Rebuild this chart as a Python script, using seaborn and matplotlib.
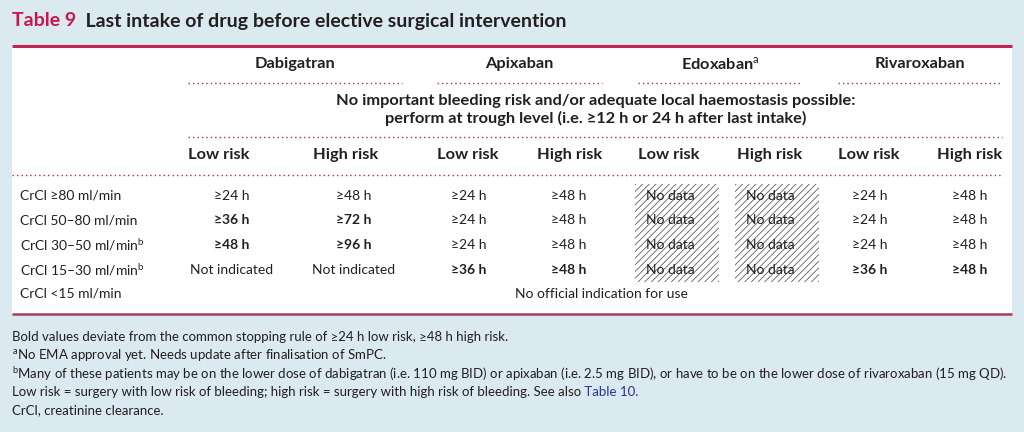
import numpy as np
import pandas as pd
import matplotlib
matplotlib.use("Agg")
import matplotlib.pyplot as plt
import seaborn as sns
from matplotlib.patches import Rectangle

sns.set_theme(style="white")
plt.rcParams['font.family'] = ['Lato', 'DejaVu Sans']
plt.rcParams['mathtext.fontset'] = 'custom'
plt.rcParams['mathtext.rm'] = 'Lato'
plt.rcParams['mathtext.bf'] = 'Lato:bold'
plt.rcParams['hatch.linewidth'] = 0.6

# --- datos de la tabla ---
titulo_num = "Table 9"
titulo = "Last intake of drug before elective surgical intervention"
farmacos = ["Dabigatran", "Apixaban", "Edoxaban$^{\\mathrm{a}}$", "Rivaroxaban"]
riesgos = ["Low risk", "High risk"]
cabecera_1 = "No important bleeding risk and/or adequate local haemostasis possible:"
cabecera_2 = "perform at trough level (i.e. ≥12 h or 24 h after last intake)"
filas = ["CrCl ≥80 ml/min", "CrCl 50–80 ml/min", "CrCl 30–50 ml/min$^{\\mathrm{b}}$",
         "CrCl 15–30 ml/min$^{\\mathrm{b}}$", "CrCl <15 ml/min"]

dabigatran_low = ["≥24 h", "≥36 h", "≥48 h", "Not indicated"]
dabigatran_high = ["≥48 h", "≥72 h", "≥96 h", "Not indicated"]
apixaban_low = ["≥24 h", "≥24 h", "≥24 h", "≥36 h"]
apixaban_high = ["≥48 h", "≥48 h", "≥48 h", "≥48 h"]
edoxaban_low = ["No data", "No data", "No data", "No data"]
edoxaban_high = ["No data", "No data", "No data", "No data"]
rivaroxaban_low = ["≥24 h", "≥24 h", "≥24 h", "≥36 h"]
rivaroxaban_high = ["≥48 h", "≥48 h", "≥48 h", "≥48 h"]

# celdas en negrita (se desvían de la regla común)
dabigatran_low_bold = [False, True, True, False]
dabigatran_high_bold = [False, True, True, False]
apixaban_low_bold = [False, False, False, True]
apixaban_high_bold = [False, False, False, True]
edoxaban_low_bold = [False, False, False, False]
edoxaban_high_bold = [False, False, False, False]
rivaroxaban_low_bold = [False, False, False, True]
rivaroxaban_high_bold = [False, False, False, True]

ultima_fila = "No official indication for use"

notas = [
    "Bold values deviate from the common stopping rule of ≥24 h low risk, ≥48 h high risk.",
    "$^{\\mathrm{a}}$No EMA approval yet. Needs update after finalisation of SmPC.",
    "$^{\\mathrm{b}}$Many of these patients may be on the lower dose of dabigatran (i.e. 110 mg BID) or apixaban "
    "(i.e. 2.5 mg BID), or have to be on the lower dose of rivaroxaban (15 mg QD).",
    "Low risk = surgery with low risk of bleeding; high risk = surgery with high risk of bleeding. See also",
    "CrCl, creatinine clearance.",
]
nota_enlace = " Table 10."

valores = pd.DataFrame({
    "dab_low": dabigatran_low, "dab_high": dabigatran_high,
    "api_low": apixaban_low, "api_high": apixaban_high,
    "edo_low": edoxaban_low, "edo_high": edoxaban_high,
    "riv_low": rivaroxaban_low, "riv_high": rivaroxaban_high,
})
negritas = pd.DataFrame({
    "dab_low": dabigatran_low_bold, "dab_high": dabigatran_high_bold,
    "api_low": apixaban_low_bold, "api_high": apixaban_high_bold,
    "edo_low": edoxaban_low_bold, "edo_high": edoxaban_high_bold,
    "riv_low": rivaroxaban_low_bold, "riv_high": rivaroxaban_high_bold,
})

# --- maquetación (coordenadas en píxeles) ---
col_izq = [188, 313, 437, 537, 638, 737, 838, 937]
col_centro = [232, 354, 469, 569, 670, 770, 870, 970]
farmaco_tramo = [(188, 402), (437, 602), (638, 802), (838, 1002)]
fila_y = [196, 220.5, 245, 269.5, 294]
nota_y = [337, 355, 374, 392, 410]

fondo = "#dbeaf0"
rojo = "#c0264f"
texto = "#231f20"
t_cab = 11.8
t_dato = 10
t_nota = 9.5

fig = plt.figure(figsize=(10.24, 4.32), dpi=100, facecolor=fondo)
ax = fig.add_axes([0, 0, 1, 1])
ax.set_xlim(0, 1024)
ax.set_ylim(432, 0)
ax.axis("off")

# panel blanco y líneas rojas
ax.add_patch(Rectangle((12, 46), 1000, 268, facecolor="white", edgecolor="none", zorder=0))
ax.plot([12, 1012], [46, 46], color=rojo, lw=2.2, solid_capstyle="butt")
ax.plot([12, 1012], [314, 314], color="#a83a5a", lw=1.8, solid_capstyle="butt")

# título
t = ax.text(12, 21, titulo_num, color="#c8174a", fontsize=14, fontweight="bold", va="center")
ax.annotate("  " + titulo, xy=(1, 0.5), xycoords=t, va="center", color=texto,
            fontsize=14, fontweight="bold")

punteado = dict(color=rojo, lw=1.0, linestyle=(0, (1, 2.2)))

# cabeceras de fármaco
for nombre, (x0, x1) in zip(farmacos, farmaco_tramo):
    ax.text((x0 + x1) / 2, 64, nombre, ha="center", va="center", fontsize=t_cab,
            fontweight="bold", color=texto)
    ax.plot([x0, x1], [83, 83], **punteado)

ax.text(596, 101, cabecera_1, ha="center", va="center", fontsize=t_cab, fontweight="bold", color=texto)
ax.text(596, 118, cabecera_2, ha="center", va="center", fontsize=t_cab, fontweight="bold", color=texto)
ax.plot([188, 1002], [137, 137], **punteado)

for i, x in enumerate(col_izq):
    ax.text(x, 155, riesgos[i % 2], ha="left", va="center", fontsize=t_cab,
            fontweight="bold", color=texto)
ax.plot([12, 1002], [175, 175], **punteado)

# filas
for j, etiqueta in enumerate(filas):
    ax.text(20, fila_y[j], etiqueta, ha="left", va="center", fontsize=t_dato, color=texto)

alto = fila_y[1] - fila_y[0]
for c, col in enumerate(valores.columns):
    for j, v in enumerate(valores[col]):
        if v == "No data":
            ax.add_patch(Rectangle((col_centro[c] - 35, fila_y[j] - alto / 2), 84, alto,
                                   fill=False, hatch="/////", edgecolor="#606060", lw=0, zorder=1))
        ax.text(col_centro[c], fila_y[j], v, ha="center", va="center", fontsize=t_dato,
                fontweight="bold" if negritas[col][j] else "normal", color=texto, zorder=2)

ax.text((col_centro[0] + col_centro[-1]) / 2, fila_y[4], ultima_fila, ha="center",
        va="center", fontsize=t_dato, color=texto)

# notas al pie
for k, nota in enumerate(notas):
    tn = ax.text(12, nota_y[k], nota, ha="left", va="center", fontsize=t_nota, color=texto)
    if k == 3:
        ax.annotate(nota_enlace, xy=(1, 0.5), xycoords=tn, va="center",
                    fontsize=t_nota, color="#2e3192")

fig.savefig("out.png", dpi=100, facecolor=fondo)
